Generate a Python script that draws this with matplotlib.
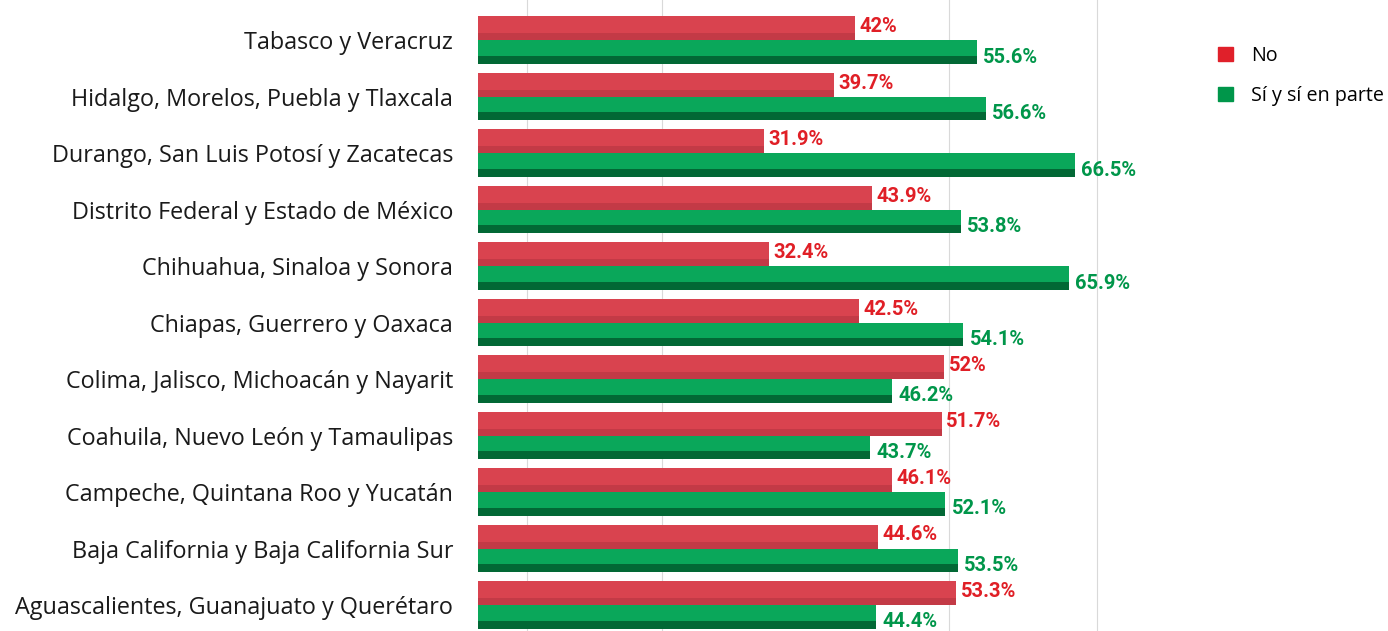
import numpy as np
import matplotlib.pyplot as plt
from matplotlib.patches import Patch

plt.rcParams['font.family'] = ['Roboto', 'DejaVu Sans']

# Data (bottom to top)
regions = [
    'Aguascalientes, Guanajuato y Querétaro',
    'Baja California y Baja California Sur',
    'Campeche, Quintana Roo y Yucatán',
    'Coahuila, Nuevo León y Tamaulipas',
    'Colima, Jalisco, Michoacán y Nayarit',
    'Chiapas, Guerrero y Oaxaca',
    'Chihuahua, Sinaloa y Sonora',
    'Distrito Federal y Estado de México',
    'Durango, San Luis Potosí y Zacatecas',
    'Hidalgo, Morelos, Puebla y Tlaxcala',
    'Tabasco y Veracruz',
]
no_vals = [53.3, 44.6, 46.1, 51.7, 52, 42.5, 32.4, 43.9, 31.9, 39.7, 42]
si_vals = [44.4, 53.5, 52.1, 43.7, 46.2, 54.1, 65.9, 53.8, 66.5, 56.6, 55.6]
no_labels = ['53.3%', '44.6%', '46.1%', '51.7%', '52%', '42.5%', '32.4%', '43.9%', '31.9%', '39.7%', '42%']
si_labels = ['44.4%', '53.5%', '52.1%', '43.7%', '46.2%', '54.1%', '65.9%', '53.8%', '66.5%', '56.6%', '55.6%']

red_bar = '#d9434f'
red_dark = '#9c2b37'
red_text = '#e01f26'
green_bar = '#0aa75a'
green_dark = '#00592c'
green_text = '#00964a'

fig = plt.figure(figsize=(13.88, 6.31), dpi=100)
ax = fig.add_axes([0.3444, 0.0, 0.4847, 1.0])

y = np.arange(len(regions))
h = 0.42

# faint back-wall grid lines
for gx in [5.5, 20.5, 52.5, 69]:
    ax.axvline(gx, color='#d9d9d9', lw=0.8, zorder=0)

# main bars with a darker lower strip for a cylinder look
ax.barh(y + 0.21, no_vals, height=h, color=red_bar, zorder=2)
ax.barh(y + 0.21 - 0.15, no_vals, height=0.12, color=red_dark, alpha=0.35, zorder=3)
ax.barh(y - 0.21, si_vals, height=h, color=green_bar, zorder=2)
ax.barh(y - 0.21 - 0.14, si_vals, height=0.14, color=green_dark, alpha=0.8, zorder=3)

for i in range(len(regions)):
    ax.text(no_vals[i] + 0.5, y[i] + 0.24, no_labels[i], color=red_text,
            fontsize=14.5, fontweight='bold', va='center', ha='left')
    ax.text(si_vals[i] + 0.7, y[i] - 0.3, si_labels[i], color=green_text,
            fontsize=14.5, fontweight='bold', va='center', ha='left')

ax.set_xlim(0, 75)
ax.set_ylim(-0.46, 10.71)
ax.set_yticks(y)
ax.set_yticklabels(regions, fontsize=16.8, color='#1a1a1a', family=['Open Sans', 'DejaVu Sans'])
ax.tick_params(axis='y', length=0, pad=18)
ax.set_xticks([])
for s in ax.spines.values():
    s.set_visible(False)

handles = [Patch(color='#e0202a', label='No'), Patch(color='#00964a', label='Sí y sí en parte')]
fig.legend(handles=handles, loc='upper left', bbox_to_anchor=(0.865, 0.955),
           frameon=False, handlelength=0.75, handleheight=0.75,
           labelspacing=1.0, handletextpad=0.9, prop={'family': ['Open Sans', 'DejaVu Sans'], 'size': 14.2})

fig.savefig('out.png', dpi=100)
